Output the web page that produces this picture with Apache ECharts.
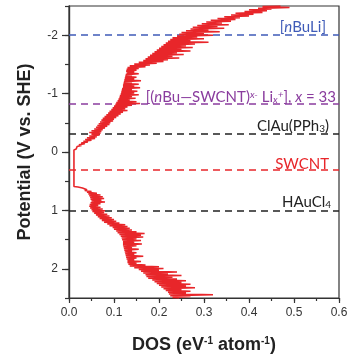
<!DOCTYPE html>
<html>
<head>
<meta charset="utf-8">
<script src="https://cdn.jsdelivr.net/npm/echarts@6/dist/echarts.min.js"></script>
<style>
html,body{margin:0;padding:0;background:#fff;}
#chart{width:347px;height:354px;}
</style>
</head>
<body>
<div id="chart"></div>
<script>
// DOS trace: [potential (V vs SHE), DOS (eV^-1 atom^-1)]
const dosTrace = [
[-2.5,0.47],[-2.49,0.43],[-2.475,0.49],[-2.46,0.42],[-2.45,0.45],[-2.435,0.40],[-2.42,0.44],[-2.405,0.39],[-2.39,0.43],[-2.375,0.37],
[-2.36,0.41],[-2.345,0.36],[-2.33,0.40],[-2.315,0.345],[-2.3,0.38],[-2.285,0.33],[-2.27,0.37],[-2.255,0.315],[-2.24,0.36],[-2.225,0.305],
[-2.21,0.34],[-2.195,0.295],[-2.18,0.355],[-2.165,0.285],[-2.15,0.33],[-2.135,0.275],[-2.12,0.345],[-2.105,0.27],[-2.09,0.31],[-2.075,0.26],
[-2.06,0.335],[-2.045,0.25],[-2.03,0.30],[-2.015,0.245],[-2.0,0.32],[-1.985,0.24],[-1.97,0.285],[-1.955,0.23],[-1.94,0.30],[-1.925,0.225],
[-1.91,0.27],[-1.895,0.22],[-1.88,0.31],[-1.865,0.215],[-1.85,0.28],[-1.835,0.21],[-1.82,0.26],[-1.805,0.205],[-1.79,0.275],[-1.775,0.2],
[-1.76,0.25],[-1.745,0.195],[-1.73,0.27],[-1.715,0.19],[-1.7,0.24],[-1.685,0.185],[-1.67,0.255],[-1.655,0.18],[-1.64,0.23],[-1.625,0.175],
[-1.61,0.245],[-1.595,0.17],[-1.58,0.22],[-1.565,0.165],[-1.55,0.21],[-1.535,0.155],[-1.52,0.195],[-1.505,0.145],[-1.49,0.18],[-1.475,0.135],
[-1.46,0.17],[-1.445,0.13],[-1.43,0.155],[-1.415,0.128],
[-1.4,0.15],[-1.385,0.127],[-1.37,0.145],[-1.355,0.128],[-1.34,0.155],[-1.325,0.126],[-1.31,0.14],[-1.295,0.125],[-1.28,0.15],[-1.265,0.124],
[-1.25,0.145],[-1.235,0.123],[-1.22,0.16],[-1.205,0.122],[-1.19,0.14],[-1.175,0.121],[-1.16,0.155],[-1.145,0.12],[-1.13,0.145],[-1.115,0.12],
[-1.1,0.158],[-1.085,0.118],[-1.07,0.14],[-1.055,0.117],[-1.04,0.152],[-1.025,0.116],[-1.01,0.145],[-0.995,0.115],[-0.98,0.155],[-0.965,0.113],
[-0.95,0.14],[-0.935,0.112],[-0.92,0.148],[-0.905,0.11],[-0.89,0.135],[-0.875,0.108],[-0.86,0.15],[-0.845,0.105],[-0.83,0.158],[-0.815,0.103],
[-0.8,0.14],[-0.785,0.1],[-0.77,0.13],[-0.755,0.097],[-0.74,0.125],[-0.725,0.094],[-0.71,0.13],[-0.695,0.09],[-0.68,0.12],[-0.665,0.087],
[-0.65,0.115],[-0.635,0.083],[-0.62,0.11],[-0.605,0.079],[-0.59,0.105],[-0.575,0.075],[-0.56,0.1],[-0.545,0.072],[-0.53,0.098],[-0.515,0.069],
[-0.5,0.092],[-0.485,0.066],[-0.47,0.09],[-0.455,0.063],[-0.44,0.085],[-0.425,0.06],[-0.41,0.08],[-0.395,0.056],[-0.38,0.075],[-0.365,0.05],
[-0.35,0.072],[-0.335,0.045],[-0.32,0.07],[-0.305,0.05],[-0.29,0.068],[-0.275,0.045],[-0.26,0.062],[-0.245,0.04],[-0.23,0.058],[-0.215,0.036],
[-0.2,0.05],[-0.185,0.032],[-0.17,0.042],[-0.155,0.027],[-0.14,0.035],[-0.125,0.022],[-0.11,0.028],[-0.095,0.018],[-0.08,0.022],[-0.065,0.014],
[-0.05,0.016],[-0.035,0.011],[0.59,0.011],
[0.6,0.02],[0.615,0.03],[0.63,0.028],[0.645,0.04],[0.66,0.035],[0.675,0.05],[0.69,0.04],[0.705,0.062],[0.72,0.043],[0.735,0.07],
[0.75,0.045],[0.765,0.075],[0.78,0.047],[0.795,0.078],[0.81,0.048],[0.825,0.072],[0.84,0.05],[0.855,0.08],[0.87,0.048],[0.885,0.07],
[0.9,0.046],[0.915,0.065],[0.93,0.045],[0.945,0.07],[0.96,0.047],[0.975,0.075],[0.99,0.05],[1.005,0.08],[1.02,0.052],[1.035,0.078],
[1.05,0.056],[1.065,0.085],[1.08,0.06],[1.095,0.09],[1.11,0.064],[1.125,0.095],[1.14,0.068],[1.155,0.1],[1.17,0.073],[1.185,0.105],
[1.2,0.078],[1.215,0.112],[1.23,0.085],[1.245,0.125],[1.26,0.09],[1.275,0.13],[1.29,0.097],[1.305,0.135],[1.32,0.1],[1.335,0.14],
[1.35,0.105],[1.365,0.15],[1.38,0.108],[1.395,0.168],[1.41,0.112],[1.425,0.16],[1.44,0.115],[1.455,0.165],[1.47,0.117],[1.485,0.15],
[1.5,0.118],[1.515,0.16],[1.53,0.12],[1.545,0.145],[1.56,0.12],[1.575,0.162],[1.59,0.12],[1.605,0.15],[1.62,0.121],[1.635,0.14],
[1.65,0.122],[1.665,0.155],[1.68,0.123],[1.695,0.14],[1.71,0.124],[1.725,0.15],[1.74,0.125],[1.755,0.145],[1.77,0.126],[1.785,0.165],
[1.8,0.127],[1.815,0.15],[1.83,0.128],[1.845,0.145],[1.86,0.13],[1.875,0.16],[1.89,0.13],[1.905,0.15],[1.92,0.132],[1.935,0.17],
[1.95,0.135],[1.965,0.2],[1.98,0.145],[1.995,0.21],[2.01,0.155],[2.025,0.2],[2.04,0.16],[2.055,0.24],[2.07,0.165],[2.085,0.22],
[2.1,0.17],[2.115,0.25],[2.13,0.172],[2.145,0.23],[2.16,0.176],[2.175,0.24],[2.19,0.185],[2.205,0.26],[2.22,0.19],[2.235,0.25],
[2.25,0.195],[2.265,0.27],[2.28,0.2],[2.295,0.26],[2.31,0.205],[2.325,0.28],[2.34,0.21],[2.355,0.25],[2.37,0.215],[2.385,0.27],
[2.4,0.22],[2.415,0.26],[2.43,0.222],[2.445,0.32],[2.46,0.225],[2.475,0.27],[2.49,0.23],[2.5,0.245]
];

// Reference potentials (V vs SHE)
const refNames = ['nBuLi', 'nBuSWCNT', 'ClAuPPh3', 'SWCNT', 'HAuCl4'];
const refPotentials = [-2.0, -0.82, -0.32, 0.3, 1.0];
const refColors = ['#3f5bb8', '#8a3c9e', '#222222', '#e8262a', '#222222'];
const refLabels = [
  '{b|[}{bi|n}{b|BuLi]}',
  '{p|[(}{pi|n}{p|Bu\u2014SWCNT)}{psup|x-}{p| Li}{psub|x}{psup|+}{p|], }{pi|x}{p| = 33}',
  '{k|ClAu(PPh}{ksub|3}{k|)}',
  '{r|SWCNT}',
  '{k|HAuCl}{ksub|4}'
];
const refLabelLift = [1, -1, 0, -2, 1];
const refLabelInset = [13, 3, 10, 10, 8];

// Axis tick values
const xMin = 0, xMax = 0.6, xMajor = 0.1, xMinor = 0.05;
const yMin = -2.5, yMax = 2.5, yMinor = 0.5;
const yMajorTicks = [-2, -1, 0, 1, 2];

const labFont = 'Lato';
const fs = 15, fsSmall = 10;
const richLab = {
  b: {fontFamily: labFont, fontSize: fs, color: '#3f5bb8'},
  bi: {fontFamily: labFont, fontSize: fs, color: '#3f5bb8', fontStyle: 'italic'},
  p: {fontFamily: labFont, fontSize: fs, color: '#8a3c9e'},
  pi: {fontFamily: labFont, fontSize: fs, color: '#8a3c9e', fontStyle: 'italic'},
  psup: {fontFamily: labFont, fontSize: fsSmall, color: '#8a3c9e', fontStyle: 'italic', verticalAlign: 'top'},
  psub: {fontFamily: labFont, fontSize: fsSmall, color: '#8a3c9e', fontStyle: 'italic', verticalAlign: 'bottom'},
  k: {fontFamily: labFont, fontSize: fs, color: '#222'},
  ksub: {fontFamily: labFont, fontSize: fsSmall, color: '#222', verticalAlign: 'bottom'},
  r: {fontFamily: labFont, fontSize: fs, color: '#e8262a'}
};

const markData = refPotentials.map((p, i) => ({
  name: refNames[i],
  yAxis: p,
  lineStyle: {color: refColors[i], type: [7, 5], width: 1.6},
  label: {
    show: true,
    position: 'insideEndTop',
    distance: [refLabelInset[i], refLabelLift[i]],
    formatter: refLabels[i],
    rich: richLab
  }
}));

const chart = echarts.init(document.getElementById('chart'), null, {renderer: 'canvas'});
const axisColor = '#333';
const lineSt = {color: axisColor, width: 1.2};

chart.setOption({
  animation: false,
  backgroundColor: '#fff',
  grid: {left: 69, right: 8, top: 6, bottom: 56, show: true, borderColor: axisColor, borderWidth: 1.2,
         backgroundColor: 'transparent', outerBoundsMode: 'none', containLabel: false},
  xAxis: [{
    type: 'value', min: xMin, max: xMax, interval: xMinor, position: 'bottom',
    axisLine: {show: true, onZero: false, lineStyle: lineSt},
    axisTick: {show: true, inside: false, length: 3, lineStyle: lineSt},
    axisLabel: {show: false},
    splitLine: {show: false}
  }, {
    type: 'value', min: xMin, max: xMax, interval: xMajor, position: 'bottom',
    name: '{t|DOS (eV}{s|-1}{t| atom}{s|-1}{t|)}',
    nameLocation: 'middle', nameGap: 38,
    nameTextStyle: {
      rich: {
        t: {fontFamily: 'Liberation Sans', fontWeight: 'bold', fontSize: 18, color: '#222'},
        s: {fontFamily: 'Liberation Sans', fontWeight: 'bold', fontSize: 10, color: '#222', verticalAlign: 'top'}
      }
    },
    axisLine: {show: true, onZero: false, lineStyle: lineSt},
    axisTick: {show: true, inside: false, length: 5, lineStyle: lineSt},
    axisLabel: {
      fontFamily: 'Liberation Sans', fontSize: 12, color: '#333', margin: 9,
      formatter: v => v.toFixed(1)
    },
    splitLine: {show: false}
  }],
  yAxis: [{
    type: 'value', min: yMin, max: yMax, interval: yMinor, inverse: true, position: 'left',
    axisLine: {show: true, onZero: false, lineStyle: lineSt},
    axisTick: {show: true, inside: false, length: 4, lineStyle: lineSt},
    axisLabel: {show: false},
    splitLine: {show: false}
  }, {
    type: 'value', min: yMin, max: yMax, interval: yMinor, inverse: true, position: 'left',
    name: 'Potential (V vs. SHE)',
    nameLocation: 'middle', nameGap: 35,
    nameTextStyle: {fontFamily: 'Liberation Sans', fontWeight: 'bold', fontSize: 18, color: '#222'},
    axisLine: {show: true, onZero: false, lineStyle: lineSt},
    axisTick: {show: true, inside: false, length: 7, lineStyle: lineSt, customValues: yMajorTicks},
    axisLabel: {
      fontFamily: 'Liberation Sans', fontSize: 12, color: '#333', margin: 11,
      customValues: yMajorTicks,
      formatter: v => String(Math.round(v))
    },
    splitLine: {show: false}
  }],
  series: [{
    type: 'line',
    xAxisIndex: 0, yAxisIndex: 0,
    data: dosTrace.map(d => [d[1], d[0]]),
    showSymbol: false,
    symbol: 'none',
    lineStyle: {color: '#e8262a', width: 1.6},
    clip: true,
    z: 3,
    markLine: {
      silent: true,
      symbol: ['none', 'none'],
      animation: false,
      data: markData,
      z: 2
    }
  }]
});
</script>
</body>
</html>
